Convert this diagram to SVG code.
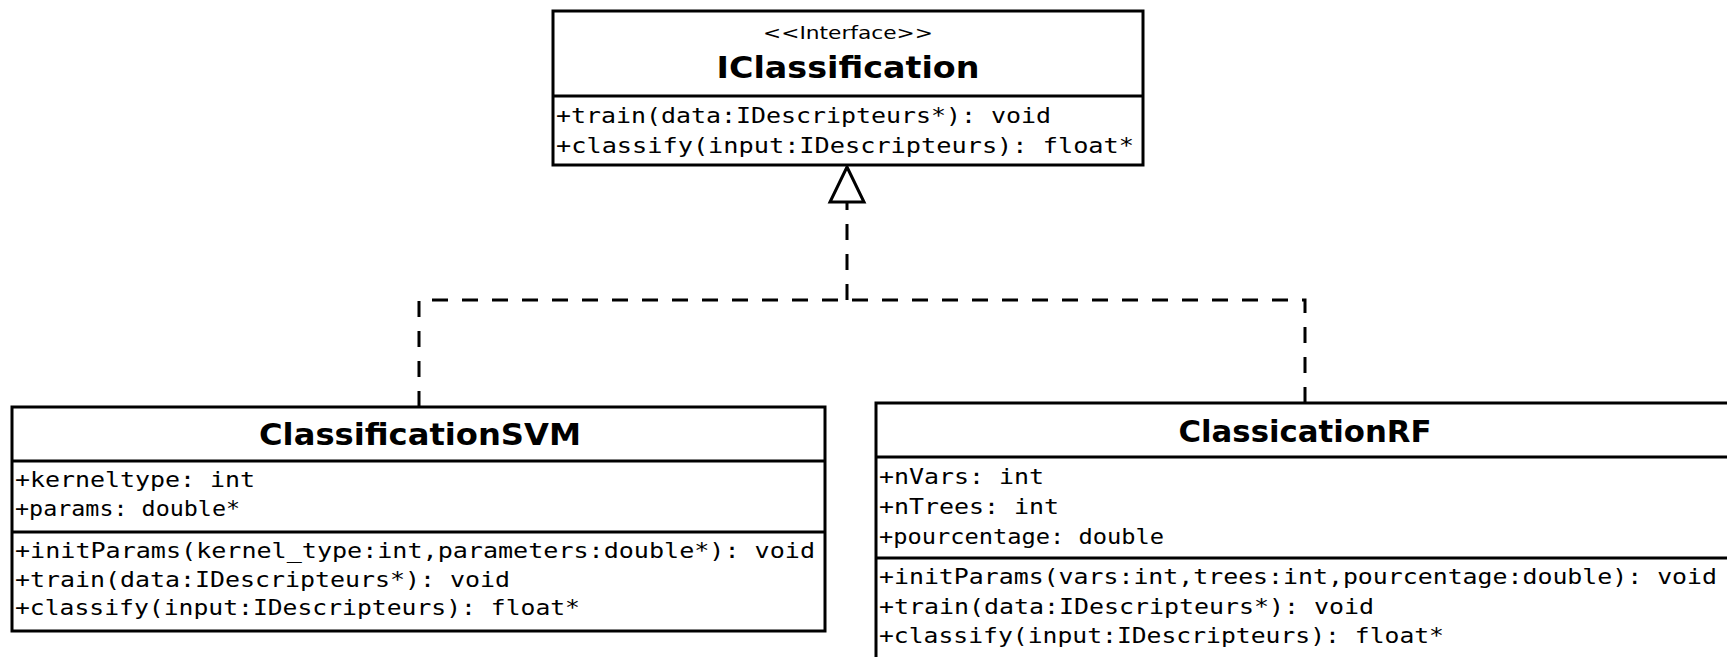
<svg xmlns="http://www.w3.org/2000/svg" width="1727" height="657" viewBox="0 0 1727 657">
<style>
.box{fill:#fff;stroke:#000;stroke-width:3}
.sep{stroke:#000;stroke-width:3}
.mono{font-family:"DejaVu Sans Mono","Liberation Mono",monospace;font-size:22px;fill:#000}
.title{font-family:"DejaVu Sans","Liberation Sans",sans-serif;font-weight:bold;font-size:30px;fill:#000;text-anchor:middle}
.stereo{font-family:"DejaVu Sans","Liberation Sans",sans-serif;font-size:18px;fill:#000;text-anchor:middle}
.dash{fill:none;stroke:#000;stroke-width:3;stroke-dasharray:16 14}
</style>
<rect width="1727" height="657" fill="#fff"/>
<g id="connectors">
<path class="dash" d="M419,407 V300 H847"/>
<path class="dash" d="M1305,403 V300 H847"/>
<path class="dash" d="M847,300 V202"/>
<polygon points="847,167 864,202 830,202" fill="#fff" stroke="#000" stroke-width="3"/>
</g>
<g id="IClassification">
<rect class="box" x="553" y="11" width="590" height="154"/>
<line class="sep" x1="553" y1="96" x2="1143" y2="96"/>
<text class="stereo" x="848" y="39" textLength="170" lengthAdjust="spacingAndGlyphs">&lt;&lt;Interface&gt;&gt;</text>
<text class="title" x="848" y="78" textLength="263" lengthAdjust="spacingAndGlyphs">IClassification</text>
<text class="mono" x="556" y="123" textLength="495" lengthAdjust="spacingAndGlyphs">+train(data:IDescripteurs*): void</text>
<text class="mono" x="556" y="153" textLength="578" lengthAdjust="spacingAndGlyphs">+classify(input:IDescripteurs): float*</text>
</g>
<g id="ClassificationSVM">
<rect class="box" x="12" y="407" width="813" height="224"/>
<line class="sep" x1="12" y1="461" x2="825" y2="461"/>
<line class="sep" x1="12" y1="532" x2="825" y2="532"/>
<text class="title" x="420" y="445" textLength="322" lengthAdjust="spacingAndGlyphs">ClassificationSVM</text>
<text class="mono" x="15" y="487" textLength="240" lengthAdjust="spacingAndGlyphs">+kerneltype: int</text>
<text class="mono" x="15" y="516" textLength="225" lengthAdjust="spacingAndGlyphs">+params: double*</text>
<text class="mono" x="15" y="558" textLength="800" lengthAdjust="spacingAndGlyphs">+initParams(kernel_type:int,parameters:double*): void</text>
<text class="mono" x="15" y="587" textLength="495" lengthAdjust="spacingAndGlyphs">+train(data:IDescripteurs*): void</text>
<text class="mono" x="15" y="615" textLength="565" lengthAdjust="spacingAndGlyphs">+classify(input:IDescripteurs): float*</text>
</g>
<g id="ClassicationRF">
<rect class="box" x="876" y="403" width="870" height="270"/>
<line class="sep" x1="876" y1="457" x2="1746" y2="457"/>
<line class="sep" x1="876" y1="558" x2="1746" y2="558"/>
<text class="title" x="1305" y="442" textLength="253" lengthAdjust="spacingAndGlyphs">ClassicationRF</text>
<text class="mono" x="879" y="484" textLength="165" lengthAdjust="spacingAndGlyphs">+nVars: int</text>
<text class="mono" x="879" y="514" textLength="180" lengthAdjust="spacingAndGlyphs">+nTrees: int</text>
<text class="mono" x="879" y="544" textLength="285" lengthAdjust="spacingAndGlyphs">+pourcentage: double</text>
<text class="mono" x="879" y="584" textLength="838" lengthAdjust="spacingAndGlyphs">+initParams(vars:int,trees:int,pourcentage:double): void</text>
<text class="mono" x="879" y="614" textLength="495" lengthAdjust="spacingAndGlyphs">+train(data:IDescripteurs*): void</text>
<text class="mono" x="879" y="643" textLength="565" lengthAdjust="spacingAndGlyphs">+classify(input:IDescripteurs): float*</text>
</g>
</svg>
